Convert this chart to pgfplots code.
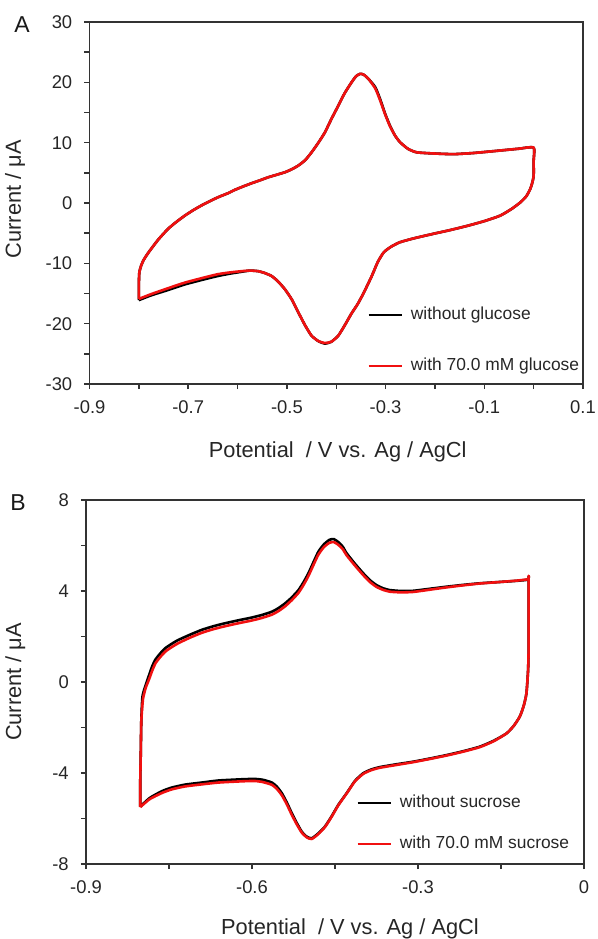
\documentclass[border=0pt]{standalone}
\usepackage{fontspec}
\setmainfont{Liberation Sans}
\usepackage{pgfplots}
\usepackage{pgfplotstable}
\pgfplotsset{compat=1.18}

\definecolor{axisgray}{HTML}{333333}
\definecolor{cvred}{HTML}{F01010}

% Panel A: cyclic voltammograms, glucose
\pgfplotstableread{
V I
-0.800 -16.1
-0.800 -13.5
-0.799 -11.5
-0.795 -10.3
-0.790 -9.4
-0.783 -8.5
-0.775 -7.6
-0.760 -6.0
-0.741 -4.3
-0.725 -3.2
-0.707 -2.1
-0.690 -1.2
-0.673 -0.4
-0.656 0.3
-0.640 0.94
-0.620 1.6
-0.606 2.16
-0.590 2.7
-0.572 3.26
-0.555 3.75
-0.538 4.26
-0.520 4.7
-0.504 5.1
-0.490 5.6
-0.477 6.2
-0.463 7.1
-0.450 8.4
-0.437 9.9
-0.423 11.7
-0.410 13.9
-0.396 16.1
-0.383 18.2
-0.369 20.0
-0.360 21.0
-0.352 21.4
-0.345 21.3
-0.335 20.6
-0.321 19.2
-0.311 17.2
-0.301 14.8
-0.291 12.8
-0.281 11.2
-0.271 10.1
-0.255 9.0
-0.237 8.4
-0.200 8.2
-0.162 8.1
-0.120 8.3
-0.068 8.7
-0.030 9.0
0.000 9.2
0.000 7.0
0.000 4.5
-0.003 3.3
-0.007 2.3
-0.015 1.1
-0.027 0.1
-0.045 -1.0
-0.068 -2.1
-0.100 -3.0
-0.135 -3.8
-0.170 -4.5
-0.203 -5.1
-0.240 -5.8
-0.271 -6.5
-0.290 -7.3
-0.304 -8.2
-0.316 -9.8
-0.328 -12.1
-0.345 -15.0
-0.357 -16.8
-0.369 -18.3
-0.383 -20.3
-0.396 -22.0
-0.410 -23.0
-0.423 -23.3
-0.436 -22.9
-0.450 -22.0
-0.463 -20.3
-0.477 -18.1
-0.490 -16.0
-0.504 -14.3
-0.518 -13.0
-0.531 -12.1
-0.545 -11.6
-0.558 -11.3
-0.575 -11.2
-0.592 -11.4
-0.615 -11.7
-0.640 -12.1
-0.670 -12.7
-0.707 -13.5
-0.740 -14.4
-0.775 -15.3
-0.800 -16.1
}\glucoseNo

\pgfplotstableread{
V I
-0.800 -15.9
-0.800 -13.5
-0.799 -11.5
-0.795 -10.3
-0.790 -9.4
-0.783 -8.5
-0.775 -7.6
-0.760 -6.0
-0.741 -4.3
-0.725 -3.2
-0.707 -2.1
-0.690 -1.2
-0.673 -0.4
-0.656 0.3
-0.640 0.94
-0.620 1.6
-0.606 2.16
-0.590 2.7
-0.572 3.26
-0.555 3.75
-0.538 4.26
-0.520 4.7
-0.504 5.1
-0.490 5.6
-0.477 6.2
-0.463 7.1
-0.450 8.4
-0.437 9.9
-0.423 11.7
-0.410 13.9
-0.396 16.1
-0.383 18.2
-0.369 20.0
-0.360 21.0
-0.352 21.4
-0.345 21.3
-0.335 20.6
-0.321 19.0
-0.311 17.0
-0.301 14.7
-0.291 12.7
-0.281 11.2
-0.271 10.1
-0.255 9.0
-0.237 8.4
-0.200 8.2
-0.162 8.1
-0.120 8.3
-0.068 8.7
-0.030 9.0
0.000 9.2
0.000 7.0
0.000 4.5
-0.003 3.3
-0.007 2.3
-0.015 1.1
-0.027 0.1
-0.045 -1.0
-0.068 -2.1
-0.100 -3.0
-0.135 -3.8
-0.170 -4.5
-0.203 -5.1
-0.240 -5.8
-0.271 -6.5
-0.290 -7.3
-0.304 -8.2
-0.316 -9.8
-0.328 -12.1
-0.345 -15.0
-0.357 -16.8
-0.369 -18.3
-0.383 -20.3
-0.396 -22.0
-0.410 -23.0
-0.423 -23.2
-0.436 -22.9
-0.450 -22.0
-0.463 -20.3
-0.477 -18.1
-0.490 -16.0
-0.504 -14.3
-0.518 -13.0
-0.531 -12.1
-0.545 -11.6
-0.558 -11.3
-0.575 -11.2
-0.592 -11.3
-0.615 -11.5
-0.640 -11.8
-0.670 -12.4
-0.707 -13.2
-0.740 -14.1
-0.775 -15.1
-0.800 -15.9
}\glucoseWith

% Panel B: cyclic voltammograms, sucrose
\pgfplotstableread{
V I
-0.802 -5.48
-0.802 -4.5
-0.801 -3.1
-0.800 -1.67
-0.798 -0.65
-0.793 -0.2
-0.787 0.23
-0.781 0.65
-0.775 0.97
-0.766 1.25
-0.757 1.48
-0.745 1.68
-0.733 1.85
-0.712 2.08
-0.691 2.29
-0.670 2.45
-0.649 2.58
-0.625 2.71
-0.601 2.83
-0.583 2.94
-0.564 3.09
-0.552 3.25
-0.540 3.46
-0.528 3.72
-0.516 4.04
-0.507 4.38
-0.498 4.78
-0.489 5.26
-0.480 5.73
-0.470 6.05
-0.460 6.25
-0.452 6.28
-0.444 6.15
-0.436 5.95
-0.429 5.66
-0.414 5.20
-0.399 4.78
-0.387 4.48
-0.375 4.26
-0.363 4.12
-0.351 4.04
-0.330 4.00
-0.308 4.01
-0.278 4.10
-0.248 4.19
-0.218 4.27
-0.188 4.34
-0.150 4.40
-0.120 4.45
-0.101 4.50
-0.100 4.60
-0.100 3.00
-0.100 1.50
-0.101 0.53
-0.104 -0.50
-0.109 -1.05
-0.116 -1.52
-0.127 -1.93
-0.140 -2.26
-0.163 -2.58
-0.188 -2.84
-0.218 -3.04
-0.248 -3.21
-0.278 -3.36
-0.308 -3.50
-0.340 -3.62
-0.369 -3.74
-0.385 -3.85
-0.399 -4.01
-0.414 -4.35
-0.429 -4.89
-0.444 -5.40
-0.456 -5.90
-0.468 -6.35
-0.480 -6.65
-0.492 -6.87
-0.501 -6.80
-0.510 -6.58
-0.519 -6.20
-0.528 -5.77
-0.537 -5.30
-0.546 -4.89
-0.555 -4.60
-0.564 -4.42
-0.580 -4.30
-0.595 -4.26
-0.613 -4.27
-0.631 -4.29
-0.661 -4.33
-0.691 -4.42
-0.721 -4.51
-0.745 -4.64
-0.763 -4.80
-0.785 -5.10
-0.802 -5.48
}\sucroseNo

\pgfplotstableread{
V I
-0.802 -5.50
-0.802 -4.5
-0.801 -3.1
-0.800 -1.70
-0.797 -0.75
-0.792 -0.25
-0.786 0.12
-0.780 0.52
-0.774 0.84
-0.765 1.12
-0.756 1.35
-0.744 1.55
-0.732 1.72
-0.712 1.95
-0.691 2.16
-0.670 2.32
-0.649 2.45
-0.625 2.58
-0.601 2.70
-0.583 2.81
-0.564 2.96
-0.552 3.12
-0.540 3.33
-0.528 3.60
-0.516 3.92
-0.507 4.26
-0.498 4.66
-0.489 5.14
-0.480 5.60
-0.470 5.93
-0.460 6.12
-0.452 6.15
-0.444 6.03
-0.436 5.84
-0.429 5.57
-0.414 5.12
-0.399 4.70
-0.387 4.40
-0.375 4.18
-0.363 4.05
-0.351 3.97
-0.330 3.94
-0.308 3.96
-0.278 4.06
-0.248 4.16
-0.218 4.25
-0.188 4.33
-0.150 4.40
-0.120 4.46
-0.101 4.52
-0.100 4.62
-0.100 3.00
-0.100 1.50
-0.101 0.53
-0.104 -0.50
-0.109 -1.05
-0.116 -1.52
-0.127 -1.93
-0.140 -2.26
-0.163 -2.60
-0.188 -2.86
-0.218 -3.06
-0.248 -3.23
-0.278 -3.38
-0.308 -3.52
-0.340 -3.65
-0.369 -3.77
-0.385 -3.88
-0.399 -4.04
-0.414 -4.37
-0.429 -4.90
-0.444 -5.42
-0.456 -5.92
-0.468 -6.37
-0.480 -6.68
-0.492 -6.90
-0.501 -6.83
-0.510 -6.62
-0.519 -6.26
-0.528 -5.84
-0.537 -5.38
-0.546 -4.98
-0.555 -4.70
-0.564 -4.52
-0.580 -4.40
-0.595 -4.35
-0.613 -4.36
-0.631 -4.38
-0.661 -4.42
-0.691 -4.50
-0.721 -4.59
-0.745 -4.72
-0.763 -4.88
-0.785 -5.15
-0.802 -5.50
}\sucroseWith

\pgfplotsset{
  cvaxis/.style={
    scale only axis,
    anchor=south west,
    axis line style={axisgray, line width=0.7pt},
    tick style={axisgray, line width=0.7pt},
    tick align=outside,
    tick pos=left,
    major tick length=2.6pt,
    minor tick length=2.6pt,
    /pgf/number format/assume math mode=true,
    tick label style={font=\fontsize{9.2}{10}\selectfont, text=black!85},
    xticklabel style={yshift=-2pt},
    yticklabel style={xshift=-2.5pt},
    legend style={draw=none, fill=none, inner sep=0pt,
      font=\fontsize{8.7}{10}\selectfont, text=black!85,
      nodes={inner sep=0pt, text height=6.5pt, text depth=2pt},
      column sep=4pt},
    legend cell align=left,
    legend image code/.code={\draw[##1, line width=1.3pt] (0pt,0pt) -- (16.5pt,0pt);},
  },
  cvline/.style={line width=1.3pt, line join=round, smooth, tension=0.35, no markers},
}

\begin{document}
\begin{tikzpicture}[x=1pt, y=1pt]
\useasboundingbox (0,0) rectangle (299,-469.5);

% ---- Panel A ----
\begin{axis}[cvaxis,
  at={(44.75pt,-192pt)},
  width=246.75pt, height=181pt,
  xmin=-0.9, xmax=0.1, ymin=-30, ymax=30,
  xtick={-0.9,-0.7,-0.5,-0.3,-0.1,0.1},
  minor xtick={-0.8,-0.6,-0.4,-0.2,0},
  xticklabels={-0.9,-0.7,-0.5,-0.3,-0.1,0.1},
  ytick={-30,-20,-10,0,10,20,30},
  minor ytick={-25,-15,-5,5,15,25},
  yticklabels={-30,-20,-10,0,10,20,30},
  xlabel={Potential \ / V vs. Ag / AgCl},
  ylabel={Current / μA},
  every axis x label/.style={at={(axis description cs:0.503,-0.188)}, anchor=center,
    font=\fontsize{10.9}{13}\selectfont, text=black!85},
  every axis y label/.style={at={(axis description cs:-0.151,0.51)}, anchor=center, rotate=90,
    font=\fontsize{10.9}{13}\selectfont, text=black!85},
  legend style={at={(axis description cs:0.562,0.2155)}, anchor=north west, row sep=17pt},
]
\addplot[cvline, black] table[x=V, y=I] {\glucoseNo};
\addlegendentry{without glucose}
\addplot[cvline, cvred] table[x=V, y=I] {\glucoseWith};
\addlegendentry{with 70.0 mM glucose}
\end{axis}
\node[font=\fontsize{11.5}{13}\selectfont, text=black!90] at (11,-12.5) {A};

% ---- Panel B ----
\begin{axis}[cvaxis,
  at={(43pt,-432pt)},
  width=249pt, height=182pt,
  xmin=-0.9, xmax=0, ymin=-8, ymax=8,
  xtick={-0.9,-0.6,-0.3,0},
  minor xtick={-0.75,-0.45,-0.15},
  xticklabels={-0.9,-0.6,-0.3,0},
  ytick={-8,-4,0,4,8},
  minor ytick={-6,-2,2,6},
  yticklabels={-8,-4,0,4,8},
  xlabel={Potential \ / V vs. Ag / AgCl},
  ylabel={Current / μA},
  every axis x label/.style={at={(axis description cs:0.53,-0.177)}, anchor=center,
    font=\fontsize{10.9}{13}\selectfont, text=black!85},
  every axis y label/.style={at={(axis description cs:-0.142,0.5)}, anchor=center, rotate=90,
    font=\fontsize{10.9}{13}\selectfont, text=black!85},
  legend style={at={(axis description cs:0.542,0.1925)}, anchor=north west, row sep=12pt},
]
\addplot[cvline, black] table[x=V, y=I] {\sucroseNo};
\addlegendentry{without sucrose}
\addplot[cvline, cvred] table[x=V, y=I] {\sucroseWith};
\addlegendentry{with 70.0 mM sucrose}
\end{axis}
\node[font=\fontsize{11.5}{13}\selectfont, text=black!90] at (9,-251.5) {B};
\end{tikzpicture}
\end{document}
